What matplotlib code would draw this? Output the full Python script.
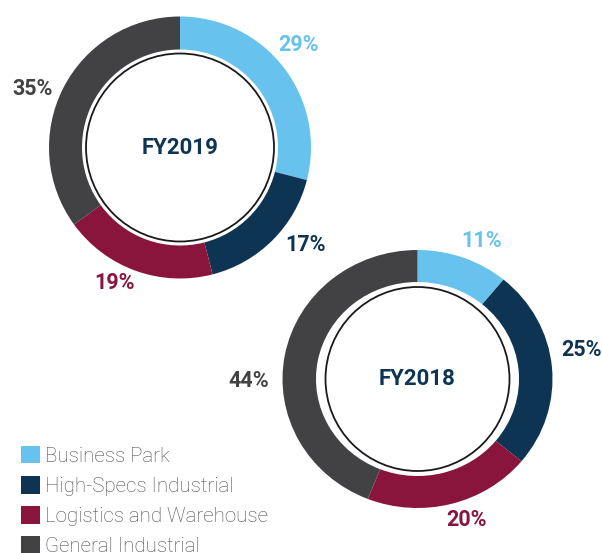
import matplotlib.pyplot as plt
from matplotlib.patches import Circle
import numpy as np

plt.rcParams['font.family'] = ['Roboto', 'DejaVu Sans']

# segment data
categories = ['Business Park', 'High-Specs Industrial', 'Logistics and Warehouse', 'General Industrial']
colors = ['#67C3EE', '#0E3454', '#8A153C', '#424244']
fy2019 = [29, 17, 19, 35]
fy2018 = [11, 25, 20, 44]

# label placement tweaks (degrees added to wedge mid-angle, distance in px)
nudge19 = [3, 7, -6, 5.5]
dist19 = [157, 159, 151, 159]
nudge18 = [-5, 4.5, 5, 11.5]
dist18 = [152, 166, 149, 169]

W, H = 602, 553
fig = plt.figure(figsize=(W / 100, H / 100), dpi=100)
ax = fig.add_axes([0, 0, 1, 1])
ax.set_xlim(0, W)
ax.set_ylim(0, H)
ax.axis('off')

# the lower donut is drawn a little wider than tall in the original
k = 135 / 129
c18 = (417.5, H - 379)
ax2 = fig.add_axes([0, 0, 1, 1])
ax2.set_xlim(c18[0] - c18[0] / k, c18[0] + (W - c18[0]) / k)
ax2.set_ylim(0, H)
ax2.axis('off')


def donut(axis, values, center, radius, ring, inner, title, nudges, dists):
    """draw one donut with its inner outline, title and percentage labels"""
    wedges, _ = axis.pie(values, colors=colors, startangle=90, counterclock=False,
                         center=center, radius=radius, frame=True,
                         wedgeprops=dict(width=ring, linewidth=0))
    axis.set_aspect('auto')
    ax2.add_patch(Circle(center, inner, facecolor='white', transform=ax.transData,
                         edgecolor='#1a1a1a', linewidth=1.3, zorder=3))
    ax2.text(center[0], center[1], title, ha='center', va='center',
             transform=ax.transData, fontsize=16, fontweight='bold',
             color='#0E3454', zorder=4)
    for w, v, c, dn, d in zip(wedges, values, colors, nudges, dists):
        mid = np.deg2rad((w.theta1 + w.theta2) / 2 + dn)
        x = center[0] + d * np.cos(mid)
        y = center[1] + d * np.sin(mid)
        ax2.text(x, y, f'{v}%', ha='center', va='center', fontsize=15.5,
                 transform=ax.transData, fontweight='bold', color=c)
    return wedges


w19 = donut(ax, fy2019, (180, H - 147.5), 131, 33, 94, 'FY2019', nudge19, dist19)
donut(ax2, fy2018, c18, 129, 32, 92, 'FY2018', nudge18, dist18)

for a in (ax, ax2):
    a.set_ylim(0, H)
    a.axis('off')
ax.set_xlim(0, W)
ax2.set_xlim(c18[0] - c18[0] / k, c18[0] + (W - c18[0]) / k)

leg = ax2.legend(w19, categories, loc='upper left', bbox_to_anchor=(21, H - 446),
                 bbox_transform=ax.transData, frameon=False, borderpad=0,
                 borderaxespad=0, handlelength=0.93, handleheight=0.93,
                 handletextpad=0.25, labelspacing=0.5, fontsize=14.8)
for t in leg.get_texts():
    t.set_color('#4d4d4d')
    t.set_fontweight('light')

fig.savefig('out.png', dpi=100)
